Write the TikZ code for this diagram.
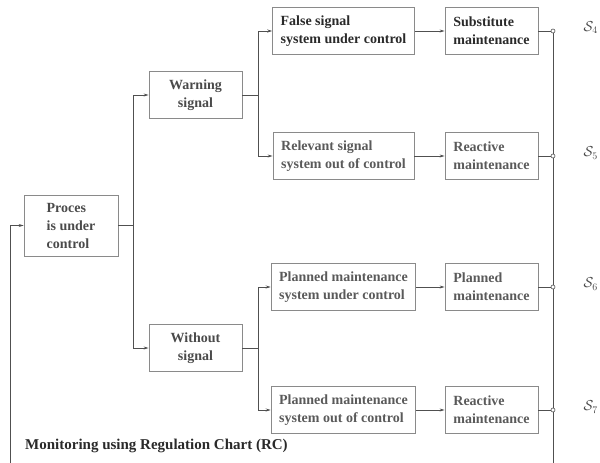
\documentclass[tikz,border=0pt]{standalone}
\usepackage{fontspec}
\setmainfont{Liberation Serif}
\usetikzlibrary{arrows.meta}
\definecolor{boxc}{HTML}{8A8A8A}
\definecolor{linec}{HTML}{505050}
\definecolor{txta}{HTML}{2A2A2A}
\definecolor{txtb}{HTML}{4A4A4A}
\definecolor{txtc}{HTML}{5A5A5A}
\tikzset{
  box/.style={draw=boxc, line width=0.8pt, rectangle, inner xsep=8pt, inner ysep=2pt,
    font=\fontsize{14}{18}\selectfont\bfseries, align=left, text=txtb},
  smallbox/.style={box, minimum width=93pt, minimum height=47pt},
  widebox/.style={box, minimum width=141pt, minimum height=47pt},
  conn/.style={draw=linec, line width=0.8pt},
  arr/.style={conn, -{Stealth[length=5pt,width=3pt]}},
  dot/.style={circle, draw=linec, fill=white, line width=0.6pt, inner sep=0pt, minimum size=4pt},
  slabel/.style={font=\fontsize{14}{16}\selectfont, text=txtb, anchor=west}
}
\begin{document}
\begin{tikzpicture}[x=1pt,y=-1pt]
\useasboundingbox (0,0) rectangle (600,463);
% nodes
\node[box, minimum width=94pt, minimum height=61pt] (proc) at (71,225.5) {Proces\\is under\\control};
\node[smallbox, align=center] (warn) at (195.5,95) {Warning\\signal};
\node[smallbox, align=center] (wout) at (195.5,348) {Without\\signal};
\node[widebox, text=txta] (fs) at (343.5,31) {False signal\\system under control};
\node[widebox, text=txtc] (rs) at (343.5,156) {Relevant signal\\system out of control};
\node[widebox, text=txtc] (pu) at (343.5,287) {Planned maintenance\\system under control};
\node[widebox, text=txtc] (po) at (343.5,410) {Planned maintenance\\system out of control};
\node[smallbox, text=txta] (sm) at (491.5,31) {Substitute\\maintenance};
\node[smallbox, text=txtc] (rm) at (491.5,156) {Reactive\\maintenance};
\node[smallbox, text=txtc] (pm) at (491.5,287) {Planned\\maintenance};
\node[smallbox, text=txtc] (rm2) at (491.5,410) {Reactive\\maintenance};
% output dots
\node[dot] (d4) at (553,31) {};
\node[dot] (d5) at (553,156) {};
\node[dot] (d6) at (553,287) {};
\node[dot] (d7) at (553,410) {};
\node[slabel] (s4) at (580,28) {$\mathcal{S}_4$};
\node[slabel] (s5) at (580,153) {$\mathcal{S}_5$};
\node[slabel] (s6) at (580,284) {$\mathcal{S}_6$};
\node[slabel] (s7) at (580,407) {$\mathcal{S}_7$};
\coordinate (rbot) at (553,463);
\coordinate (lbot) at (10,463);
% branch from proces
\coordinate (b1) at (133,225.5);
\draw[conn] (proc.east) -- (b1);
\draw[arr] (b1) |- (warn.west);
\draw[arr] (b1) |- (wout.west);
% branch from warning
\coordinate (b2) at (258,95);
\draw[conn] (warn.east) -- (b2);
\draw[arr] (b2) |- (fs.west);
\draw[arr] (b2) |- (rs.west);
% branch from without
\coordinate (b3) at (258,348);
\draw[conn] (wout.east) -- (b3);
\draw[arr] (b3) |- (pu.west);
\draw[arr] (b3) |- (po.west);
% middle to right
\draw[arr] (fs) -- (sm);
\draw[arr] (rs) -- (rm);
\draw[arr] (pu) -- (pm);
\draw[arr] (po) -- (rm2);
% right to dots
\draw[conn] (sm.east) -- (d4.west);
\draw[conn] (rm.east) -- (d5.west);
\draw[conn] (pm.east) -- (d6.west);
\draw[conn] (rm2.east) -- (d7.west);
% right vertical
\draw[conn] (d4.south) -- (d5.north);
\draw[conn] (d5.south) -- (d6.north);
\draw[conn] (d6.south) -- (d7.north);
\draw[conn] (d7.south) -- (rbot);
% feedback
\draw[arr] (lbot) |- (proc.west);
% caption
\node[font=\fontsize{15}{18}\selectfont\bfseries, text=txta, anchor=west, inner sep=0pt] (cap) at (25,446) {Monitoring using Regulation Chart (RC)};
\end{tikzpicture}
\end{document}
